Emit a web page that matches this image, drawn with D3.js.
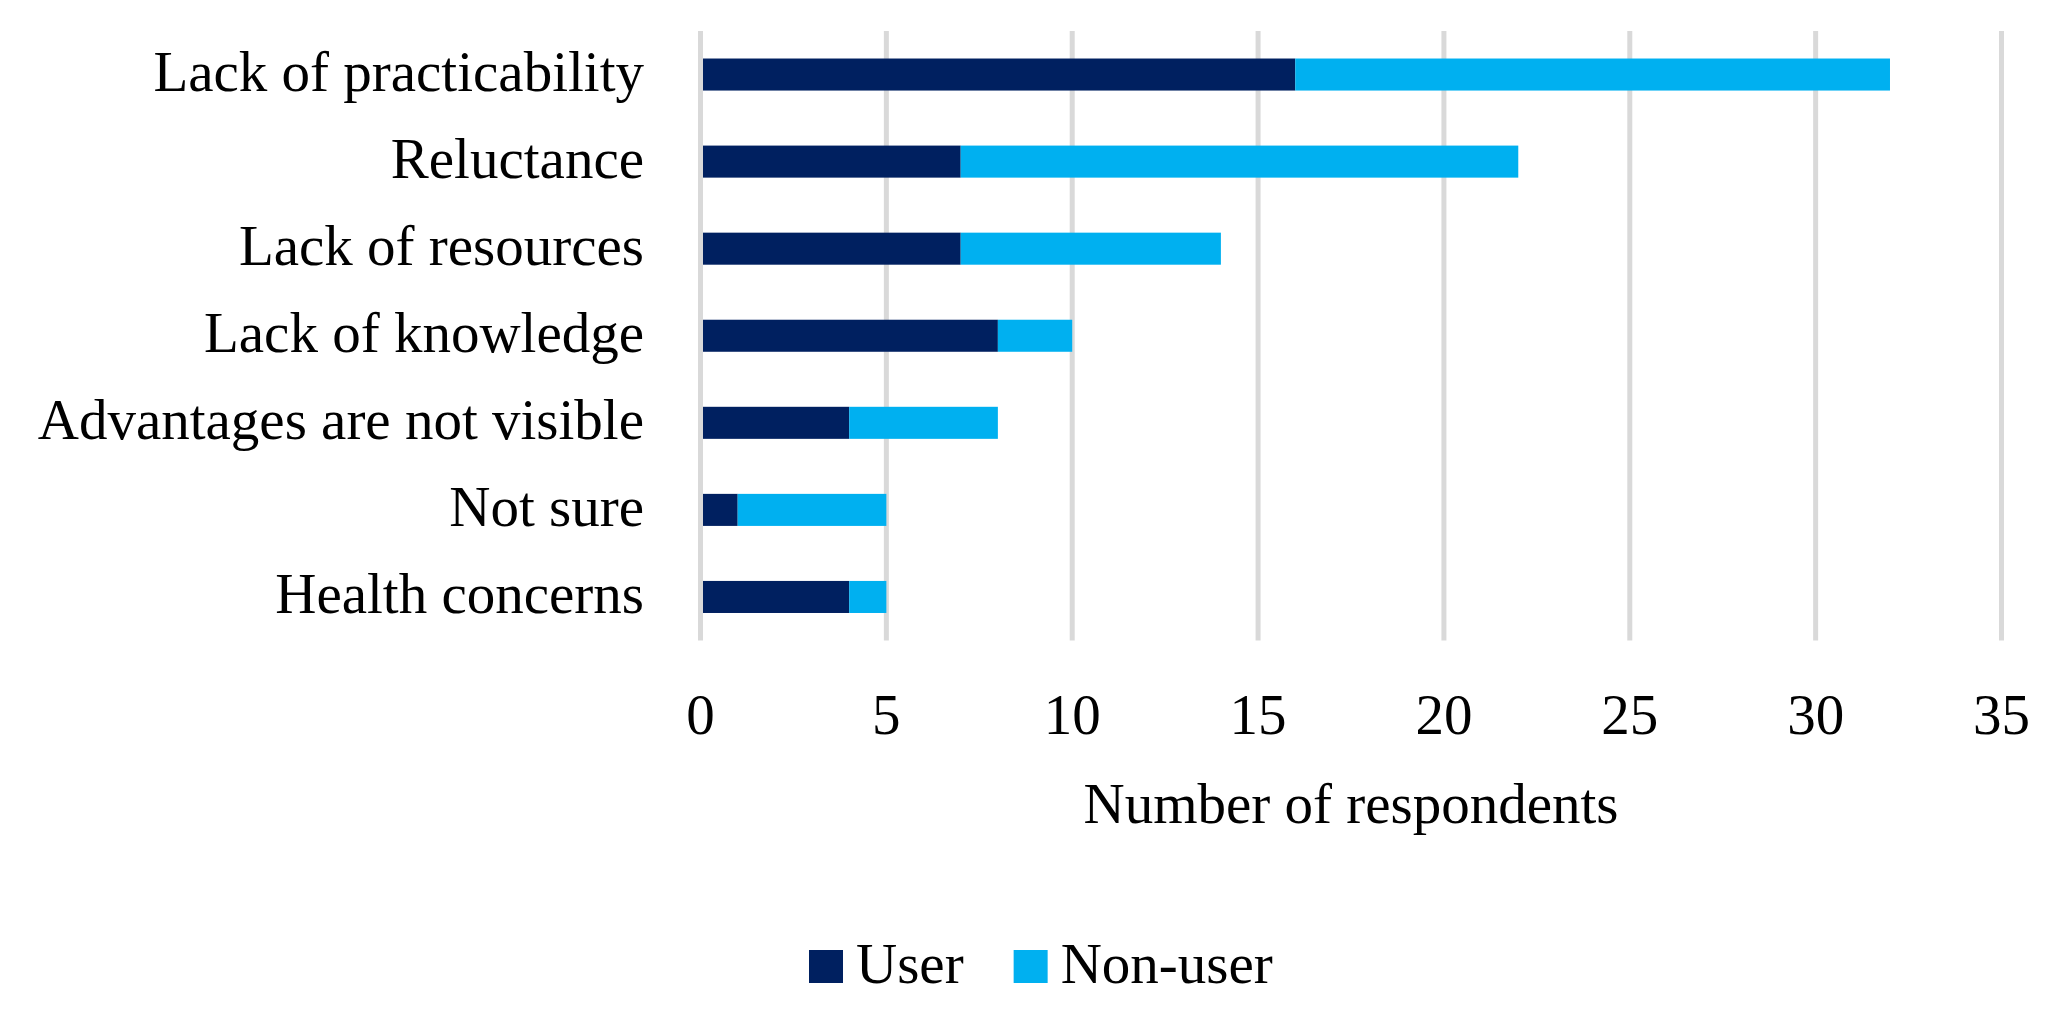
<!DOCTYPE html>
<html>
<head>
<meta charset="utf-8">
<script src="https://cdn.jsdelivr.net/npm/d3@7"></script>
<style>
  body { margin: 0; background: #fff; }
  text { font-family: "Liberation Serif", "DejaVu Serif", serif; fill: #000; }
</style>
</head>
<body>
<div class="chart"></div>
<script>
var categories = ["Lack of practicability", "Reluctance", "Lack of resources", "Lack of knowledge",
                  "Advantages are not visible", "Not sure", "Health concerns"];
var userValues = [16, 7, 7, 8, 4, 1, 4];
var nonUserValues = [16, 15, 7, 2, 4, 4, 1];
var xTicks = [0, 5, 10, 15, 20, 25, 30, 35];
var seriesNames = ["User", "Non-user"];
var seriesColors = ["#002060", "#00B0F0"];

var width = 2050, height = 1014;
var fontSize = 57;

var svg = d3.select(".chart").append("svg")
  .attr("width", width)
  .attr("height", height);

var x = d3.scaleLinear()
  .domain([0, 35])
  .range([700.5, 2001.5]);

var y = d3.scaleBand()
  .domain(categories)
  .range([31, 640.5])
  .paddingInner(0.632)
  .paddingOuter(0.316);

// stacked rows
var rows = categories.map(function(c, i) {
  return {cat: c, User: userValues[i], "Non-user": nonUserValues[i]};
});
var stacked = d3.stack().keys(seriesNames)(rows);

// vertical gridlines
svg.append("g")
  .selectAll("line")
  .data(xTicks.slice(1))
  .enter().append("line")
    .attr("x1", function(d) { return x(d); })
    .attr("x2", function(d) { return x(d); })
    .attr("y1", 31)
    .attr("y2", 640.5)
    .attr("stroke", "#d9d9d9")
    .attr("stroke-width", 5);

// bars
svg.append("g")
  .selectAll("g")
  .data(stacked)
  .enter().append("g")
    .attr("fill", function(d, i) { return seriesColors[i]; })
  .selectAll("rect")
  .data(function(d) { return d; })
  .enter().append("rect")
    .attr("x", function(d) { return x(d[0]); })
    .attr("width", function(d) { return x(d[1]) - x(d[0]); })
    .attr("y", function(d) { return y(d.data.cat); })
    .attr("height", y.bandwidth());

// zero line (category axis) on top
svg.append("line")
  .attr("x1", x(0)).attr("x2", x(0))
  .attr("y1", 31).attr("y2", 640.5)
  .attr("stroke", "#d9d9d9")
  .attr("stroke-width", 5);

// category labels
svg.append("g")
  .selectAll("text")
  .data(categories)
  .enter().append("text")
    .attr("x", 644)
    .attr("y", function(d) { return y(d) + y.bandwidth() / 2 + 16; })
    .attr("text-anchor", "end")
    .style("font-size", fontSize + "px")
    .text(function(d) { return d; });

// x tick labels
svg.append("g")
  .selectAll("text")
  .data(xTicks)
  .enter().append("text")
    .attr("x", function(d) { return x(d); })
    .attr("y", 734)
    .attr("text-anchor", "middle")
    .style("font-size", fontSize + "px")
    .text(function(d) { return d; });

// axis title
svg.append("text")
  .attr("x", (x(0) + x(35)) / 2)
  .attr("y", 823)
  .attr("text-anchor", "middle")
  .style("font-size", fontSize + "px")
  .text("Number of respondents");

// legend
var legend = svg.append("g").attr("class", "legend");
var lx = 809;
seriesNames.forEach(function(name, i) {
  legend.append("rect")
    .attr("x", lx)
    .attr("y", 950)
    .attr("width", 34)
    .attr("height", 33)
    .attr("fill", seriesColors[i]);
  var t = legend.append("text")
    .attr("x", lx + 47)
    .attr("y", 982.7)
    .style("font-size", fontSize + "px")
    .text(name);
  lx = lx + 47 + t.node().getComputedTextLength() + 50;
});
</script>
</body>
</html>
